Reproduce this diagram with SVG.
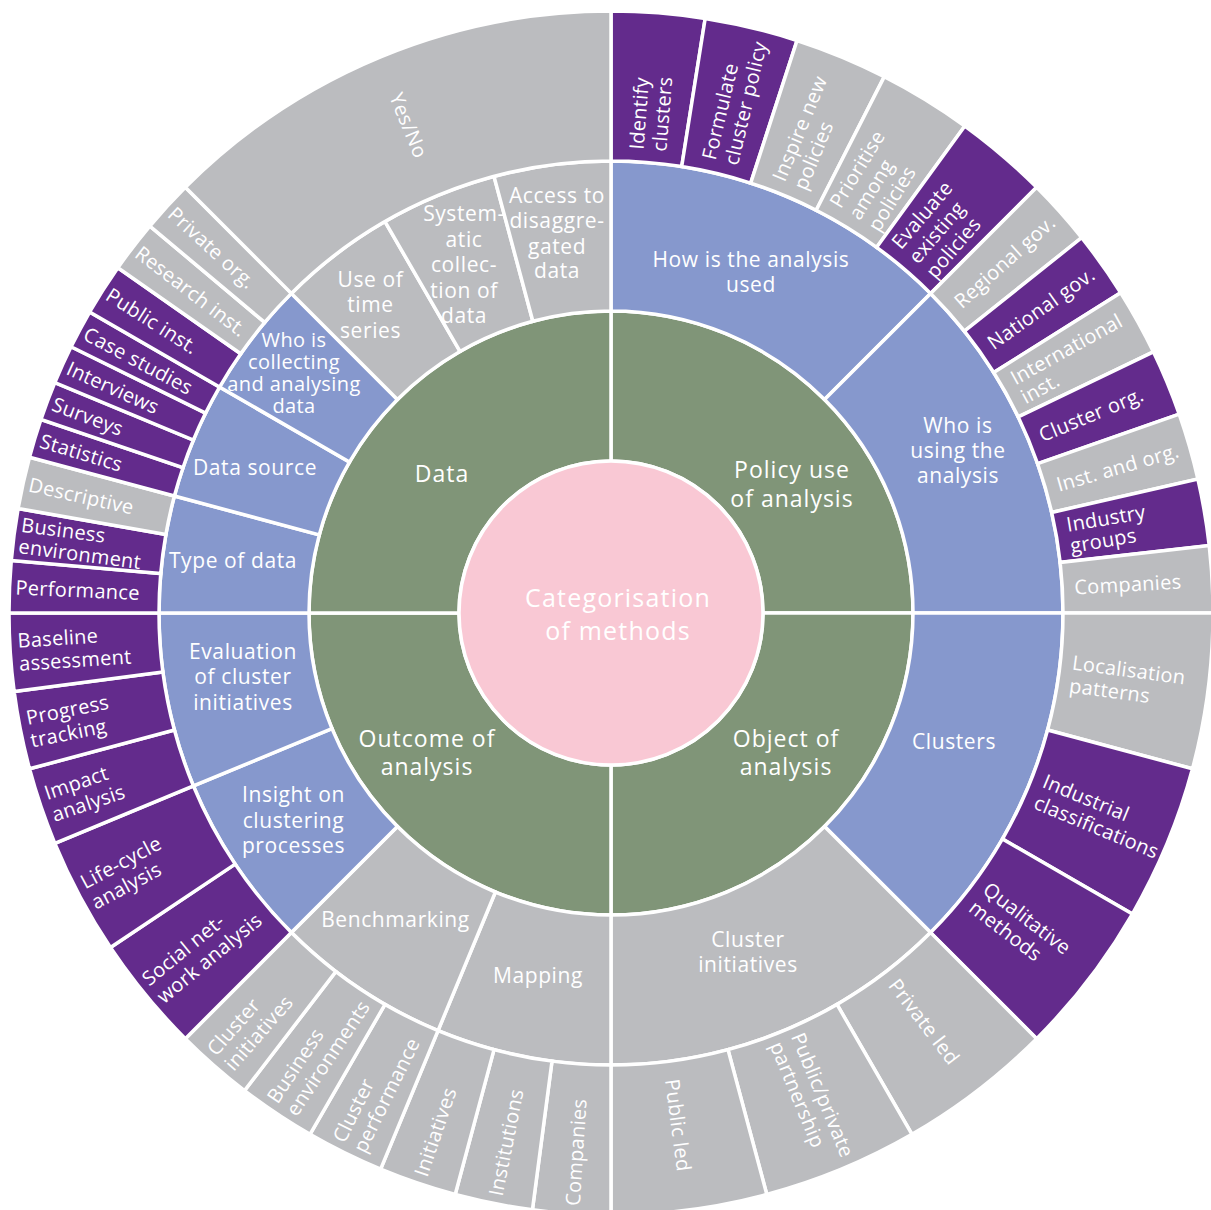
<svg xmlns="http://www.w3.org/2000/svg" width="1211" height="1210" viewBox="0 0 1211 1210">
<style>
.s{stroke:#fff;stroke-width:3.5}
.pk{fill:#F9C8D4}.gr{fill:#809578}.bl{fill:#8698CD}.gy{fill:#BBBCBF}.pu{fill:#632B8C}
text{font-family:"Open Sans","Liberation Sans",sans-serif;fill:#fff;font-size:21px;letter-spacing:0.6px}
.m{text-anchor:middle}
.t1{font-size:23px;letter-spacing:1px}
.t0{font-size:25px;letter-spacing:1.2px}
.r3{font-size:20px;letter-spacing:0.3px}
.sm{font-size:20px;letter-spacing:0.4px}
</style>
<defs>
<path id="a90" d="M0,-302A302,302 0 0 1 302,0L152,0A152,152 0 0 0 0,-152Z"/>
<path id="b45" d="M0,-452A452,452 0 0 1 319.61,-319.61L213.55,-213.55A302,302 0 0 0 0,-302Z"/>
<path id="b22" d="M0,-452A452,452 0 0 1 172.97,-417.59L115.57,-279.01A302,302 0 0 0 0,-302Z"/>
<path id="b15" d="M0,-452A452,452 0 0 1 116.99,-436.60L78.16,-291.71A302,302 0 0 0 0,-302Z"/>
<path id="c9" d="M0,-602A602,602 0 0 1 94.17,-594.59L70.71,-446.44A452,452 0 0 0 0,-452Z"/>
<path id="c64" d="M0,-602A602,602 0 0 1 67.40,-598.21L50.61,-449.16A452,452 0 0 0 0,-452Z"/>
<path id="c15" d="M0,-602A602,602 0 0 1 155.81,-581.49L116.99,-436.60A452,452 0 0 0 0,-452Z"/>
<path id="c75" d="M0,-602A602,602 0 0 1 78.58,-596.85L59.00,-448.13A452,452 0 0 0 0,-452Z"/>
<path id="c11" d="M0,-602A602,602 0 0 1 117.44,-590.44L88.18,-443.32A452,452 0 0 0 0,-452Z"/>
<path id="c5" d="M0,-602A602,602 0 0 1 52.47,-599.71L39.40,-450.28A452,452 0 0 0 0,-452Z"/>
<path id="c375" d="M0,-602A602,602 0 0 1 39.37,-600.71L29.56,-451.03A452,452 0 0 0 0,-452Z"/>
<path id="c45" d="M0,-602A602,602 0 0 1 425.68,-425.68L319.61,-319.61A452,452 0 0 0 0,-452Z"/>
</defs>
<rect width="1211" height="1210" fill="#fff"/>

<!-- Ring 1 -->
<g id="policy-use"><use href="#a90" class="gr s" transform="translate(611 613) rotate(0)"/><text class="t1 m"><tspan x="792" y="478">Policy use</tspan><tspan x="792" y="507">of analysis</tspan></text></g>
<g id="object"><use href="#a90" class="gr s" transform="translate(611 613) rotate(90)"/><text class="t1 m"><tspan x="786" y="747">Object of</tspan><tspan x="786" y="775">analysis</tspan></text></g>
<g id="outcome"><use href="#a90" class="gr s" transform="translate(611 613) rotate(180)"/><text class="t1 m"><tspan x="427" y="747">Outcome of</tspan><tspan x="427" y="775">analysis</tspan></text></g>
<g id="data"><use href="#a90" class="gr s" transform="translate(611 613) rotate(270)"/><text class="t1 m" x="442" y="482">Data</text></g>

<g id="center"><circle cx="611" cy="613" r="152" class="pk s"/><text class="t0 m"><tspan x="618" y="607">Categorisation</tspan><tspan x="618" y="640">of methods</tspan></text></g>

<!-- Ring 2 -->
<g id="how-used"><use href="#b45" class="bl s" transform="translate(611 613) rotate(0)"/><text class="m"><tspan x="751" y="267">How is the analysis</tspan><tspan x="751" y="292">used</tspan></text></g>
<g id="who-using"><use href="#b45" class="bl s" transform="translate(611 613) rotate(45)"/><text class="m"><tspan x="958" y="433">Who is</tspan><tspan x="958" y="458">using the</tspan><tspan x="958" y="483">analysis</tspan></text></g>
<g id="clusters"><use href="#b45" class="bl s" transform="translate(611 613) rotate(90)"/><text class="m" x="954" y="749">Clusters</text></g>
<g id="cluster-initiatives"><use href="#b45" class="gy s" transform="translate(611 613) rotate(135)"/><text class="m"><tspan x="748" y="947">Cluster</tspan><tspan x="748" y="972">initiatives</tspan></text></g>
<g id="mapping"><use href="#b22" class="gy s" transform="translate(611 613) rotate(180)"/><text class="m" x="538" y="983">Mapping</text></g>
<g id="benchmarking"><use href="#b22" class="gy s" transform="translate(611 613) rotate(202.5)"/><text class="m" x="395.5" y="927">Benchmarking</text></g>
<g id="insight"><use href="#b22" class="bl s" transform="translate(611 613) rotate(225)"/><text class="m"><tspan x="293.5" y="802">Insight on</tspan><tspan x="293.5" y="828">clustering</tspan><tspan x="293.5" y="853">processes</tspan></text></g>
<g id="evaluation"><use href="#b22" class="bl s" transform="translate(611 613) rotate(247.5)"/><text class="m"><tspan x="243" y="659">Evaluation</tspan><tspan x="243" y="684">of cluster</tspan><tspan x="243" y="710">initiatives</tspan></text></g>
<g id="type-of-data"><use href="#b15" class="bl s" transform="translate(611 613) rotate(270)"/><text class="m" x="233" y="568">Type of data</text></g>
<g id="data-source"><use href="#b15" class="bl s" transform="translate(611 613) rotate(285)"/><text class="m" x="255" y="475">Data source</text></g>
<g id="who-collecting"><use href="#b15" class="bl s" transform="translate(611 613) rotate(300)"/><text class="m sm"><tspan x="294" y="347">Who is</tspan><tspan x="294" y="369">collecting</tspan><tspan x="294" y="391">and analysing</tspan><tspan x="294" y="413">data</tspan></text></g>
<g id="time-series"><use href="#b15" class="gy s" transform="translate(611 613) rotate(315)"/><text class="m"><tspan x="370.5" y="287">Use of</tspan><tspan x="370.5" y="312">time</tspan><tspan x="370.5" y="338">series</tspan></text></g>
<g id="systematic"><use href="#b15" class="gy s" transform="translate(611 613) rotate(330)"/><text class="m"><tspan x="464" y="221">System-</tspan><tspan x="464" y="247">atic</tspan><tspan x="464" y="272">collec-</tspan><tspan x="464" y="298">tion of</tspan><tspan x="464" y="323">data</tspan></text></g>
<g id="access"><use href="#b15" class="gy s" transform="translate(611 613) rotate(345)"/><text class="m"><tspan x="557" y="203">Access to</tspan><tspan x="557" y="228">disaggre-</tspan><tspan x="557" y="254">gated</tspan><tspan x="557" y="278">data</tspan></text></g>

<!-- Ring 3: right half -->
<g id="identify"><use href="#c9" class="pu s" transform="translate(611 613) rotate(0)"/><text class="r3" transform="translate(611 613) rotate(4.5) translate(0 -464) rotate(-90)"><tspan x="0" y="-4">Identify</tspan><tspan x="0" y="19">clusters</tspan></text></g>
<g id="formulate"><use href="#c9" class="pu s" transform="translate(611 613) rotate(9)"/><text class="r3" transform="translate(611 613) rotate(13.5) translate(0 -464) rotate(-90)"><tspan x="0" y="-4">Formulate</tspan><tspan x="0" y="19">cluster policy</tspan></text></g>
<g id="inspire"><use href="#c9" class="gy s" transform="translate(611 613) rotate(18)"/><text class="r3" transform="translate(611 613) rotate(22.5) translate(0 -464) rotate(-90)"><tspan x="0" y="-4">Inspire new</tspan><tspan x="0" y="19">policies</tspan></text></g>
<g id="prioritise"><use href="#c9" class="gy s" transform="translate(611 613) rotate(27)"/><text class="r3" transform="translate(611 613) rotate(31.5) translate(0 -464) rotate(-90)"><tspan x="0" y="-15">Prioritise</tspan><tspan x="0" y="7.5">among</tspan><tspan x="0" y="30">policies</tspan></text></g>
<g id="evaluate"><use href="#c9" class="pu s" transform="translate(611 613) rotate(36)"/><text class="r3" transform="translate(611 613) rotate(40.5) translate(0 -464) rotate(-90)"><tspan x="0" y="-15">Evaluate</tspan><tspan x="0" y="7.5">existing</tspan><tspan x="0" y="30">policies</tspan></text></g>

<g id="regional-gov"><use href="#c64" class="gy s" transform="translate(611 613) rotate(45)"/><text class="r3" transform="translate(611 613) rotate(48.214) translate(0 -464) rotate(-90)" y="7.5">Regional gov.</text></g>
<g id="national-gov"><use href="#c64" class="pu s" transform="translate(611 613) rotate(51.429)"/><text class="r3" transform="translate(611 613) rotate(54.643) translate(0 -464) rotate(-90)" y="7.5">National gov.</text></g>
<g id="international"><use href="#c64" class="gy s" transform="translate(611 613) rotate(57.857)"/><text class="r3" transform="translate(611 613) rotate(61.071) translate(0 -464) rotate(-90)"><tspan x="0" y="-3.5">International</tspan><tspan x="0" y="18">inst.</tspan></text></g>
<g id="cluster-org"><use href="#c64" class="pu s" transform="translate(611 613) rotate(64.286)"/><text class="r3" transform="translate(611 613) rotate(67.5) translate(0 -464) rotate(-90)" y="7.5">Cluster org.</text></g>
<g id="inst-org"><use href="#c64" class="gy s" transform="translate(611 613) rotate(70.714)"/><text class="r3" transform="translate(611 613) rotate(73.929) translate(0 -464) rotate(-90)" y="7.5">Inst. and org.</text></g>
<g id="industry-groups"><use href="#c64" class="pu s" transform="translate(611 613) rotate(77.143)"/><text class="r3" transform="translate(611 613) rotate(80.357) translate(0 -464) rotate(-90)"><tspan x="0" y="-3.5">Industry</tspan><tspan x="0" y="18">groups</tspan></text></g>
<g id="companies-r"><use href="#c64" class="gy s" transform="translate(611 613) rotate(83.571)"/><text class="r3" transform="translate(611 613) rotate(86.786) translate(0 -464) rotate(-90)" y="7.5">Companies</text></g>

<g id="localisation"><use href="#c15" class="gy s" transform="translate(611 613) rotate(90)"/><text class="r3" transform="translate(611 613) rotate(97.5) translate(0 -464) rotate(-90)"><tspan x="0" y="-4">Localisation</tspan><tspan x="0" y="19">patterns</tspan></text></g>
<g id="industrial"><use href="#c15" class="pu s" transform="translate(611 613) rotate(105)"/><text class="r3" transform="translate(611 613) rotate(112.5) translate(0 -464) rotate(-90)"><tspan x="0" y="-4">Industrial</tspan><tspan x="0" y="19">classifications</tspan></text></g>
<g id="qualitative"><use href="#c15" class="pu s" transform="translate(611 613) rotate(120)"/><text class="r3" transform="translate(611 613) rotate(127.5) translate(0 -464) rotate(-90)"><tspan x="0" y="-4">Qualitative</tspan><tspan x="0" y="19">methods</tspan></text></g>
<g id="private-led"><use href="#c15" class="gy s" transform="translate(611 613) rotate(135)"/><text class="r3" transform="translate(611 613) rotate(142.5) translate(0 -464) rotate(-90)" y="7.5">Private led</text></g>
<g id="public-private"><use href="#c15" class="gy s" transform="translate(611 613) rotate(150)"/><text class="r3" transform="translate(611 613) rotate(157.5) translate(0 -460) rotate(-90)"><tspan x="0" y="-4">Public/private</tspan><tspan x="0" y="19">partnership</tspan></text></g>
<g id="public-led"><use href="#c15" class="gy s" transform="translate(611 613) rotate(165)"/><text class="r3" transform="translate(611 613) rotate(172.5) translate(0 -470) rotate(-90)" y="7.5">Public led</text></g>

<!-- Ring 3: left half -->
<g id="companies-l"><use href="#c75" class="gy s" transform="translate(611 613) rotate(180)"/><text class="r3" transform="translate(611 613) rotate(183.75) translate(0 -594) rotate(90)" y="7.5">Companies</text></g>
<g id="institutions"><use href="#c75" class="gy s" transform="translate(611 613) rotate(187.5)"/><text class="r3" transform="translate(611 613) rotate(191.25) translate(0 -594) rotate(90)" y="7.5">Institutions</text></g>
<g id="initiatives"><use href="#c75" class="gy s" transform="translate(611 613) rotate(195)"/><text class="r3" transform="translate(611 613) rotate(198.75) translate(0 -594) rotate(90)" y="7.5">Initiatives</text></g>
<g id="cluster-performance"><use href="#c75" class="gy s" transform="translate(611 613) rotate(202.5)"/><text class="r3" transform="translate(611 613) rotate(206.25) translate(0 -594) rotate(90)"><tspan x="0" y="-4">Cluster</tspan><tspan x="0" y="19">performance</tspan></text></g>
<g id="business-environments"><use href="#c75" class="gy s" transform="translate(611 613) rotate(210)"/><text class="r3" transform="translate(611 613) rotate(213.75) translate(0 -594) rotate(90)"><tspan x="0" y="-4">Business</tspan><tspan x="0" y="19">environments</tspan></text></g>
<g id="cluster-initiatives-l"><use href="#c75" class="gy s" transform="translate(611 613) rotate(217.5)"/><text class="r3" transform="translate(611 613) rotate(221.25) translate(0 -594) rotate(90)"><tspan x="0" y="-4">Cluster</tspan><tspan x="0" y="19">initiatives</tspan></text></g>
<g id="social-network"><use href="#c11" class="pu s" transform="translate(611 613) rotate(225)"/><text class="r3" transform="translate(611 613) rotate(230.625) translate(0 -594) rotate(90)"><tspan x="0" y="-4">Social net-</tspan><tspan x="0" y="19">work analysis</tspan></text></g>
<g id="life-cycle"><use href="#c11" class="pu s" transform="translate(611 613) rotate(236.25)"/><text class="r3" transform="translate(611 613) rotate(241.875) translate(0 -594) rotate(90)"><tspan x="0" y="-4">Life-cycle</tspan><tspan x="0" y="19">analysis</tspan></text></g>
<g id="impact"><use href="#c75" class="pu s" transform="translate(611 613) rotate(247.5)"/><text class="r3" transform="translate(611 613) rotate(251.25) translate(0 -594) rotate(90)"><tspan x="0" y="-4">Impact</tspan><tspan x="0" y="19">analysis</tspan></text></g>
<g id="progress"><use href="#c75" class="pu s" transform="translate(611 613) rotate(255)"/><text class="r3" transform="translate(611 613) rotate(258.75) translate(0 -594) rotate(90)"><tspan x="0" y="-4">Progress</tspan><tspan x="0" y="19">tracking</tspan></text></g>
<g id="baseline"><use href="#c75" class="pu s" transform="translate(611 613) rotate(262.5)"/><text class="r3" transform="translate(611 613) rotate(266.25) translate(0 -594) rotate(90)"><tspan x="0" y="-4">Baseline</tspan><tspan x="0" y="19">assessment</tspan></text></g>
<g id="performance"><use href="#c5" class="pu s" transform="translate(611 613) rotate(270)"/><text class="r3" transform="translate(611 613) rotate(272.5) translate(0 -596) rotate(90)" y="7.5">Performance</text></g>
<g id="business-environment"><use href="#c5" class="pu s" transform="translate(611 613) rotate(275)"/><text class="r3" transform="translate(611 613) rotate(277.5) translate(0 -596) rotate(90)"><tspan x="0" y="-3.5">Business</tspan><tspan x="0" y="18">environment</tspan></text></g>
<g id="descriptive"><use href="#c5" class="gy s" transform="translate(611 613) rotate(280)"/><text class="r3" transform="translate(611 613) rotate(282.5) translate(0 -596) rotate(90)" y="7.5">Descriptive</text></g>
<g id="statistics"><use href="#c375" class="pu s" transform="translate(611 613) rotate(285)"/><text class="r3" transform="translate(611 613) rotate(286.875) translate(0 -596) rotate(90)" y="7.5">Statistics</text></g>
<g id="surveys"><use href="#c375" class="pu s" transform="translate(611 613) rotate(288.75)"/><text class="r3" transform="translate(611 613) rotate(290.625) translate(0 -596) rotate(90)" y="7.5">Surveys</text></g>
<g id="interviews"><use href="#c375" class="pu s" transform="translate(611 613) rotate(292.5)"/><text class="r3" transform="translate(611 613) rotate(294.375) translate(0 -596) rotate(90)" y="7.5">Interviews</text></g>
<g id="case-studies"><use href="#c375" class="pu s" transform="translate(611 613) rotate(296.25)"/><text class="r3" transform="translate(611 613) rotate(298.125) translate(0 -596) rotate(90)" y="7.5">Case studies</text></g>
<g id="public-inst"><use href="#c5" class="pu s" transform="translate(611 613) rotate(300)"/><text class="r3" transform="translate(611 613) rotate(302.5) translate(0 -596) rotate(90)" y="7.5">Public inst.</text></g>
<g id="research-inst"><use href="#c5" class="gy s" transform="translate(611 613) rotate(305)"/><text class="r3" transform="translate(611 613) rotate(307.5) translate(0 -596) rotate(90)" y="7.5">Research inst.</text></g>
<g id="private-org"><use href="#c5" class="gy s" transform="translate(611 613) rotate(310)"/><text class="r3" transform="translate(611 613) rotate(312.5) translate(0 -596) rotate(90)" y="7.5">Private org.</text></g>
<g id="yes-no"><use href="#c45" class="gy s" transform="translate(611 613) rotate(315)"/><text class="m r3" transform="translate(611 613) rotate(337.5) translate(0 -528) rotate(90)" y="7.5">Yes/No</text></g>

<g id="connectors"></g>
</svg>
